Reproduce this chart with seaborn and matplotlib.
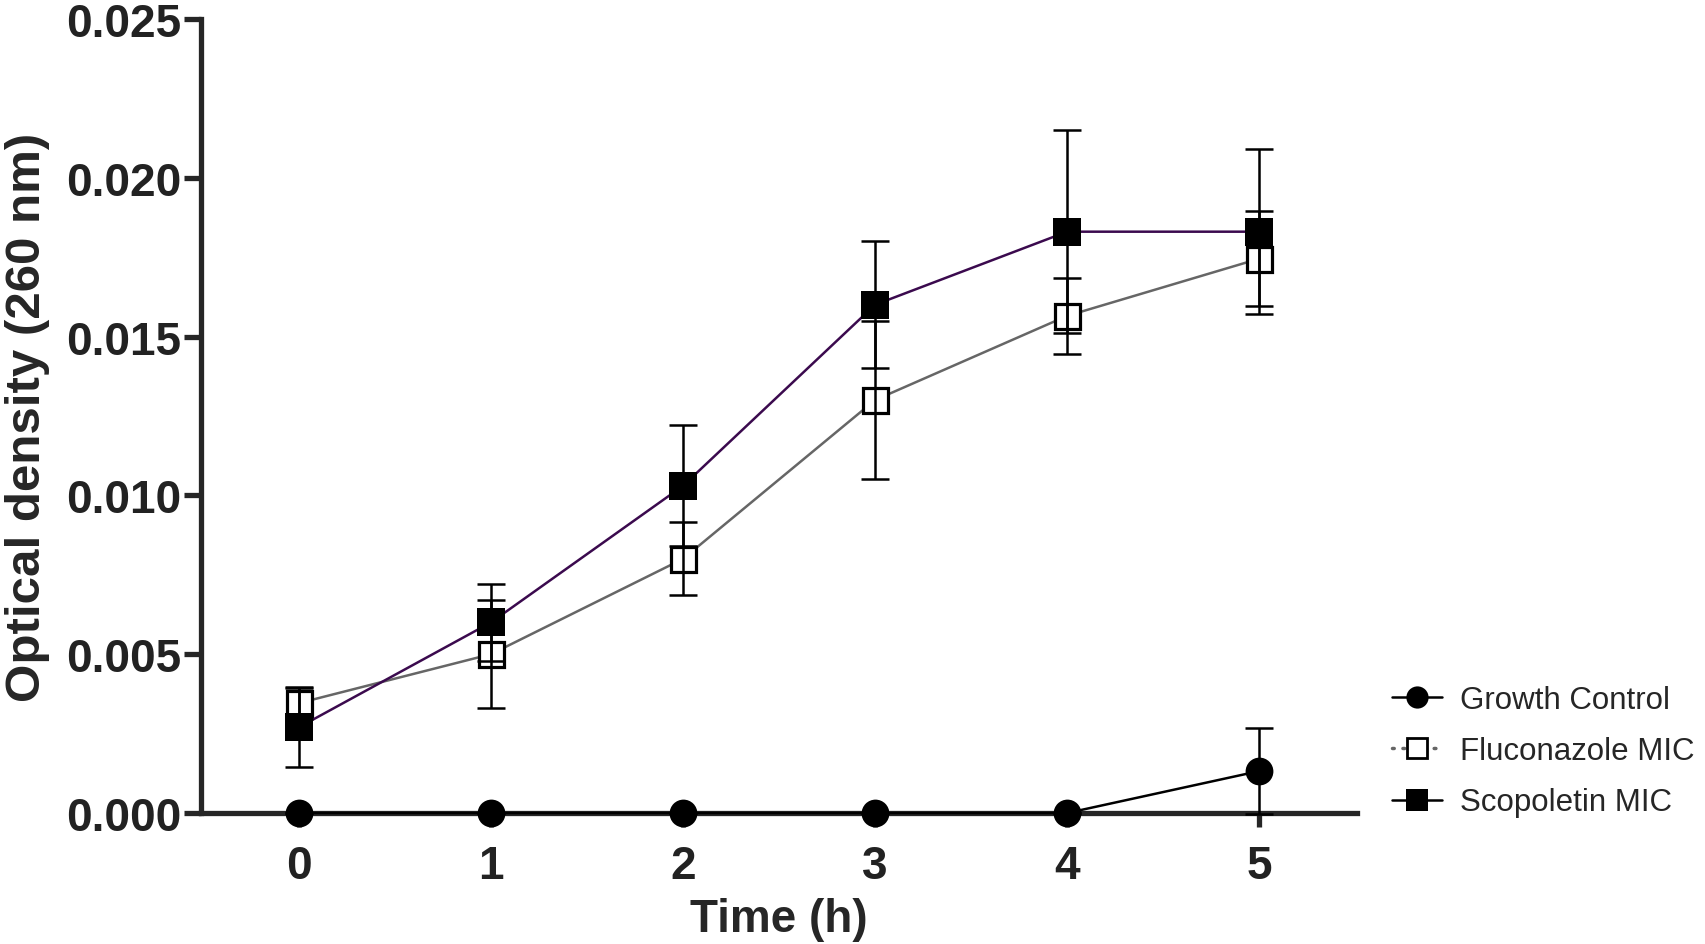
import numpy as np
import pandas as pd
import matplotlib
matplotlib.use("Agg")
import matplotlib.pyplot as plt
from matplotlib.lines import Line2D
import seaborn as sns


#%% Data
Time_h = [0, 1, 2, 3, 4, 5]

Growth_Mean = [0.0, 0.0, 0.0, 0.0, 0.0, 0.00132]
Growth_SD   = [0.0, 0.0, 0.0, 0.0, 0.0, 0.00135]

Fluco_Mean  = [0.00346, 0.0050, 0.0080, 0.0130, 0.01565, 0.01745]
Fluco_SD    = [0.0005, 0.0017, 0.00115, 0.0025, 0.0012, 0.0015]

Scopo_Mean  = [0.0027, 0.0060, 0.0103, 0.0160, 0.0183, 0.0183]
Scopo_SD    = [0.00125, 0.0012, 0.0019, 0.0020, 0.0032, 0.0026]

Series_Names = ["Growth Control", "Fluconazole MIC", "Scopoletin MIC"]

XTicks  = [0, 1, 2, 3, 4, 5]
YTicks  = [0.000, 0.005, 0.010, 0.015, 0.020, 0.025]
YTicks_Label = ["0.000", "0.005", "0.010", "0.015", "0.020", "0.025"]


#%% Style
Color_Growth = "black"
Color_Fluco  = "#666666"
Color_Scopo  = "#3b0a4e"

FontName            = ["Liberation Sans", "DejaVu Sans"]
FontSize_TickLabel  = 33
FontSize_YLabel     = 35.5
FontSize_XLabel     = 33
FontSize_Legend     = 22.5

Axis_LineWidth  = 3.8
Line_Width      = 1.8
ErrorBar_LineWidth = 1.8
MarkerSize      = 20

sns.set_style("ticks")
plt.rcParams['font.family'] = FontName

Fig = plt.figure(figsize=[17.06, 9.45], dpi=100)
ax = plt.axes([0.1178, 0.1386, 0.6777, 0.8404])

df = pd.DataFrame({"Time": Time_h,
                   "Growth": Growth_Mean,
                   "Fluco": Fluco_Mean,
                   "Scopo": Scopo_Mean})

# Lines + markers
sns.lineplot(ax=ax, data=df, x="Time", y="Fluco", color=Color_Fluco,
             linewidth=Line_Width, marker="s", markersize=MarkerSize - 2,
             markerfacecolor="white", markeredgecolor="black",
             markeredgewidth=2.3, zorder=3, clip_on=False)
sns.lineplot(ax=ax, data=df, x="Time", y="Scopo", color=Color_Scopo,
             linewidth=Line_Width, marker="s", markersize=MarkerSize,
             markerfacecolor="black", markeredgecolor="black",
             markeredgewidth=0, zorder=4, clip_on=False)
sns.lineplot(ax=ax, data=df, x="Time", y="Growth", color=Color_Growth,
             linewidth=Line_Width, marker="o", markersize=MarkerSize,
             markerfacecolor="black", markeredgecolor="black",
             markeredgewidth=0, zorder=5, clip_on=False)

# SD error bars
for Mean, SD in [(Fluco_Mean, Fluco_SD), (Scopo_Mean, Scopo_SD), (Growth_Mean, Growth_SD)]:
    ax.errorbar(Time_h, Mean, yerr=SD, fmt="none", ecolor="black",
                elinewidth=ErrorBar_LineWidth, capsize=10,
                capthick=ErrorBar_LineWidth, zorder=6, clip_on=False)


# Y axis
ax.set_ylim([0, 0.025])
ax.set_yticks(YTicks)
ax.set_yticklabels(YTicks_Label, fontsize=FontSize_TickLabel, fontweight="bold")
ax.set_ylabel("Optical density (260 nm)", fontsize=FontSize_YLabel,
              fontweight="bold", labelpad=12)

# X axis
ax.set_xlim([-0.51, 5.51])
ax.set_xticks(XTicks)
ax.set_xticklabels([str(t) for t in XTicks], fontsize=FontSize_TickLabel, fontweight="bold")
ax.set_xlabel("Time (h)", fontsize=FontSize_XLabel, fontweight="bold", labelpad=7)

for lab in ax.get_xticklabels() + ax.get_yticklabels():
    lab.set_color("#222222")

# Spines
ax.spines[['right', 'top']].set_visible(False)
ax.spines[['left', 'bottom']].set_linewidth(Axis_LineWidth)
ax.tick_params(axis="y", width=Axis_LineWidth, length=12, direction="out", pad=2)
ax.tick_params(axis="x", width=Axis_LineWidth, length=10, direction="out", pad=12)


# Legend
Handles = [
    Line2D([], [], color="black", linewidth=Line_Width, marker="o",
           markersize=16, markerfacecolor="black", markeredgewidth=0),
    Line2D([], [], color=Color_Fluco, linewidth=2.5, linestyle=(0, (0.5, 2.5)),
           dash_capstyle="round", marker="s", markersize=14,
           markerfacecolor="white", markeredgecolor="black", markeredgewidth=2),
    Line2D([], [], color="black", linewidth=Line_Width, marker="s",
           markersize=16, markerfacecolor="black", markeredgewidth=0),
]
Fig.legend(Handles, Series_Names, loc="center left",
           bbox_to_anchor=(0.803, 0.204), frameon=False,
           fontsize=FontSize_Legend, handlelength=1.6, handletextpad=0.58,
           labelspacing=0.68, borderpad=0.2)

plt.savefig("out.png", dpi=100)
